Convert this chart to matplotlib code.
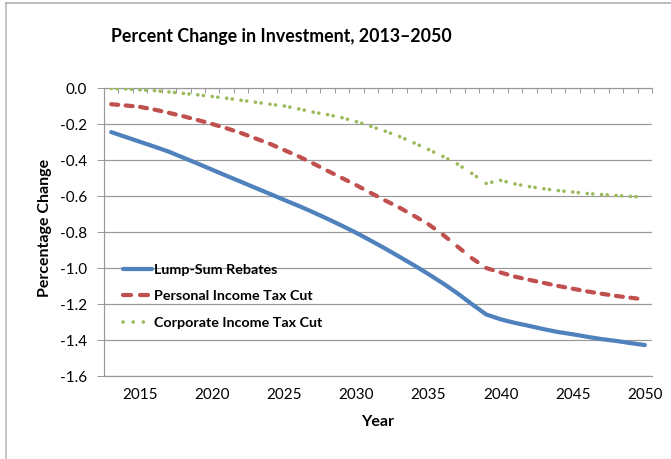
import matplotlib
matplotlib.use("Agg")
import matplotlib.pyplot as plt
from matplotlib.lines import Line2D

# ---- data -------------------------------------------------------------
years = list(range(2013, 2051))

lump_sum = [-0.245, -0.272, -0.299, -0.326, -0.354, -0.387, -0.420, -0.454,
            -0.488, -0.521, -0.555, -0.588, -0.622, -0.655, -0.690, -0.727,
            -0.765, -0.805, -0.848, -0.892, -0.938, -0.985, -1.034, -1.085,
            -1.140, -1.200, -1.258, -1.285, -1.305, -1.322, -1.340, -1.356,
            -1.368, -1.382, -1.395, -1.405, -1.417, -1.428]

personal_tax = [-0.090, -0.097, -0.105, -0.120, -0.138, -0.157, -0.178, -0.200,
                -0.224, -0.250, -0.280, -0.310, -0.345, -0.380, -0.419, -0.460,
                -0.500, -0.540, -0.583, -0.625, -0.665, -0.710, -0.757, -0.815,
                -0.880, -0.945, -1.000, -1.025, -1.048, -1.066, -1.083, -1.100,
                -1.115, -1.130, -1.143, -1.155, -1.165, -1.175]

corporate_tax = [-0.002, -0.005, -0.010, -0.015, -0.022, -0.030, -0.038, -0.047,
                 -0.057, -0.068, -0.079, -0.090, -0.100, -0.116, -0.134, -0.148,
                 -0.165, -0.187, -0.213, -0.240, -0.270, -0.305, -0.342, -0.380,
                 -0.422, -0.474, -0.530, -0.513, -0.533, -0.548, -0.560, -0.570,
                 -0.578, -0.586, -0.592, -0.597, -0.602, -0.607]

series_labels = ["Lump-Sum Rebates", "Personal Income Tax Cut",
                 "Corporate Income Tax Cut"]
y_ticks = [0.0, -0.2, -0.4, -0.6, -0.8, -1.0, -1.2, -1.4, -1.6]
x_tick_years = [2015, 2020, 2025, 2030, 2035, 2040, 2045, 2050]

title = "Percent Change in Investment, 2013\u20132050"
x_label = "Year"
y_label = "Percentage Change"

# ---- styling ----------------------------------------------------------
W, H, DPI = 671, 459, 100
plt.rcParams["font.family"] = ["Lato", "DejaVu Sans"]
plt.rcParams["lines.scale_dashes"] = False


def pt(pixels):
    return pixels * 72.0 / DPI


BLUE = "#4F81BD"
RED = "#C0504D"
GREEN = "#9BBB59"
GRID = "#999999"
TEXT = "#000000"

fig = plt.figure(figsize=(W / DPI, H / DPI), dpi=DPI)
fig.patch.set_facecolor("white")

# chart-area frame (left and top edges)
fig.add_artist(Line2D([5.5 / W, 5.5 / W], [0, 1 - 2.5 / H],
                      transform=fig.transFigure, color="#b4b4b4", lw=pt(1.5)))
fig.add_artist(Line2D([5.5 / W, 1], [1 - 2.5 / H, 1 - 2.5 / H],
                      transform=fig.transFigure, color="#a8a8a8", lw=pt(1.5)))

ax = fig.add_axes([104 / W, 1 - 376 / H, 548 / W, 288 / H])
ax.set_xlim(years[0] - 0.5, years[-1] + 0.5)
ax.set_ylim(-1.6, 0.0)

# ---- series -------------------------------------------------------------
lw_line = pt(4.2)
ax.plot(years, lump_sum, color=BLUE, lw=lw_line, solid_capstyle="round",
        solid_joinstyle="round", zorder=4)

# dashed / dotted patterns restart on every year-to-year segment
for i in range(len(years) - 1):
    ax.plot(years[i:i + 2], personal_tax[i:i + 2], color=RED, lw=lw_line,
            dashes=[pt(7), pt(30)], dash_capstyle="round", zorder=3)
    ax.plot(years[i:i + 2], corporate_tax[i:i + 2], color=GREEN, lw=pt(3.6),
            dashes=[0.1, pt(5.5), 0.1, pt(30)], dash_capstyle="round", zorder=3)

# ---- axes -------------------------------------------------------------
ax.set_yticks(y_ticks, labels=[f"{abs(v):.1f}" if v == 0 else f"{v:.1f}" for v in y_ticks])
ax.set_xticks(x_tick_years, labels=[str(y) for y in x_tick_years])
ax.set_xticks([y - 0.5 for y in years] + [years[-1] + 0.5], minor=True)

ax.tick_params(axis="x", which="major", bottom=False, top=False, length=0,
               labelbottom=True, labelsize=11, pad=pt(12), labelcolor=TEXT)
ax.tick_params(axis="x", which="minor", top=True, bottom=False, direction="in",
               length=pt(5), width=pt(1), color=GRID)
ax.tick_params(axis="y", which="major", left=True, direction="out",
               length=pt(7), width=pt(1), color=GRID, labelsize=11,
               pad=pt(10), labelcolor=TEXT)

ax.yaxis.grid(True, color=GRID, lw=pt(1.2))
ax.set_axisbelow(True)
for side in ("left", "top", "bottom"):
    ax.spines[side].set_color(GRID)
    ax.spines[side].set_linewidth(pt(1.2))
ax.spines["right"].set_visible(False)

# ---- text -------------------------------------------------------------
fig.text(281 / W, 1 - 42 / H, title, ha="center", va="baseline",
         fontsize=12.8, fontweight="bold", color=TEXT)
fig.text(45 / W, 1 - 228 / H, y_label, ha="center", va="center",
         rotation=90, fontsize=11.5, fontweight="bold", color=TEXT)
fig.text(378 / W, 1 - 426 / H, x_label, ha="center", va="baseline",
         fontsize=11.5, fontweight="bold", color=TEXT)

# ---- legend -------------------------------------------------------------
handles = [
    Line2D([], [], color=BLUE, lw=lw_line, solid_capstyle="round"),
    Line2D([], [], color=RED, lw=lw_line, dashes=[pt(8), pt(9)],
           dash_capstyle="round"),
    Line2D([], [], color=GREEN, lw=pt(3.6), dashes=[0.1, pt(10)],
           dash_capstyle="round"),
]
leg = ax.legend(handles, series_labels, loc="upper left",
                bbox_to_anchor=(123 / W, 1 - 264 / H),
                bbox_transform=fig.transFigure, frameon=False,
                prop={"size": 10.3, "weight": "bold"},
                handlelength=2.0, handletextpad=0.15, labelspacing=1.0,
                borderpad=0, borderaxespad=0)

fig.savefig("out.png", dpi=DPI, facecolor="white")
